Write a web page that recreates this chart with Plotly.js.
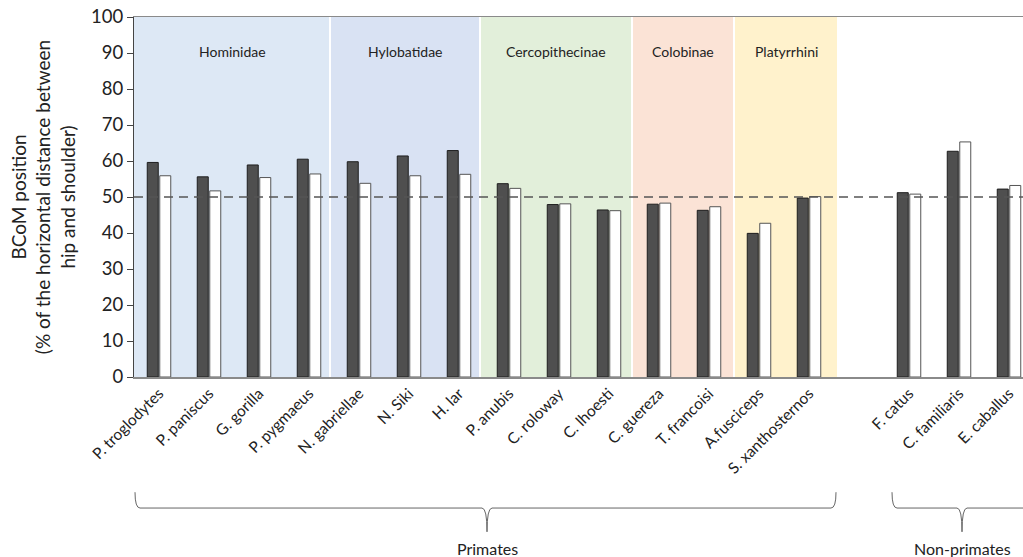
<!DOCTYPE html>
<html>
<head>
<meta charset="utf-8">
<script src="https://cdn.plot.ly/plotly-3.0.1.min.js"></script>
<style>html,body{margin:0;padding:0;background:#fff;overflow:hidden}#chart{width:1023px;height:557px}</style>
</head>
<body>
<div id="chart"></div>
<script>
// Species (slot 14 is an empty spacer between primates and non-primates)
const species = ["P. troglodytes","P. paniscus","G. gorilla","P. pygmaeus","N. gabriellae","N. Siki","H. lar",
  "P. anubis","C. roloway","C. lhoesti","C. guereza","T. francoisi","A.fusciceps","S. xanthosternos",
  "","F. catus","C. familiaris","E. caballus"];
const darkValues  = [59.6,55.6,58.9,60.5,59.8,61.4,62.9,53.7,47.9,46.4,48.0,46.3,39.9,49.7,null,51.2,62.7,52.2];
const whiteValues = [55.9,51.7,55.4,56.4,53.8,55.9,56.3,52.4,48.1,46.2,48.3,47.3,42.7,50.1,null,50.8,65.3,53.2];
const yTicks = [0,10,20,30,40,50,60,70,80,90,100];
const referenceLine = 50;
// Taxonomic groups: name, first slot, last slot
const groupNames = ["Hominidae","Hylobatidae","Cercopithecinae","Colobinae","Platyrrhini"];
const groupStart = [-0.5, 3.42, 6.42, 9.46, 11.5];
const groupEnd   = [3.42, 6.42, 9.46, 11.5, 13.58];
const groupColors = ["#dde8f5","#d9e2f3","#e2efda","#fbe3d6","#fff2cc"];
const braceLabels = ["Primates","Non-primates"];
const braceStart = [-0.48, 14.66];
const braceEnd   = [13.54, 17.6];
const braceTip   = [6.56, 16.06];

const x = species.map((_, i) => i);
const FONT = "Lato, 'Open Sans', sans-serif";

const traces = [
  {type:"bar", x:x, y:darkValues, marker:{color:"#4f4f4f", line:{color:"#1e1e1e", width:1}}, hoverinfo:"skip"},
  {type:"bar", x:x, y:whiteValues, marker:{color:"#ffffff", line:{color:"#555555", width:1}}, hoverinfo:"skip"}
];

const shapes = [];
const annotations = [];
groupNames.forEach((g, i) => {
  shapes.push({type:"rect", layer:"below", xref:"x", yref:"paper", x0:groupStart[i] + (i ? 0.02 : 0), x1:groupEnd[i] - 0.02, y0:0, y1:1,
    fillcolor:groupColors[i], line:{width:0}});
  annotations.push({xref:"x", yref:"paper", x:(groupStart[i] + groupEnd[i]) / 2, y:0.903, text:g, showarrow:false,
    font:{size:14, color:"#222", family:FONT}, xanchor:"center", yanchor:"middle"});
});
shapes.push({type:"line", layer:"above", xref:"paper", yref:"y", x0:0, x1:1, y0:referenceLine, y1:referenceLine,
  line:{color:"#555", width:1.5, dash:"9px,6px"}});

// braces (paper y: 0 = x axis, per 360 px)
const yEnd = -0.32, yBar = -0.364, yTip = -0.43;
braceLabels.forEach((b, i) => {
  const a = braceStart[i], e = braceEnd[i], t = braceTip[i];
  const r = 0.1;
  const p = `M ${a},${yEnd} Q ${a},${yBar} ${a + r},${yBar} L ${t - r},${yBar} Q ${t},${yBar} ${t},${yTip} ` +
            `M ${t},${yTip} Q ${t},${yBar} ${t + r},${yBar} L ${e - r},${yBar} Q ${e},${yBar} ${e},${yEnd}`;
  shapes.push({type:"path", xref:"x", yref:"paper", path:p, line:{color:"#666", width:1}});
  annotations.push({xref:"x", yref:"paper", x:t, y:-0.475, text:b, showarrow:false,
    font:{size:16, color:"#222", family:FONT}, xanchor:"center", yanchor:"middle"});
});

const layout = {
  width:1023, height:557,
  margin:{l:134, r:0, t:17, b:180},
  paper_bgcolor:"#fff", plot_bgcolor:"#fff",
  barmode:"group", bargap:0.5, bargroupgap:0.12,
  showlegend:false,
  font:{family:FONT, color:"#222"},
  xaxis:{range:[-0.5, 17.28], tickmode:"array", tickvals:x, ticktext:species, tickangle:-45,
    tickfont:{size:15.5, family:FONT, color:"#222"}, showgrid:false, zeroline:false,
    showline:true, linecolor:"#8a8a8a", linewidth:1.5, mirror:true, ticks:"", fixedrange:true},
  yaxis:{range:[0, 100], tickmode:"array", tickvals:yTicks, showgrid:false, zeroline:false,
    showline:true, linecolor:"#444", linewidth:1, ticks:"outside", ticklen:6, tickcolor:"#444",
    tickfont:{size:18.5, family:FONT, color:"#222"},
    title:{text:"BCoM position<br>(% of the horizontal distance between<br>hip and shoulder)",
      font:{size:19, family:FONT, color:"#222"}, standoff:10}, fixedrange:true},
  shapes:shapes, annotations:annotations
};
Plotly.newPlot("chart", traces, layout, {displayModeBar:false, staticPlot:true});
</script>
</body>
</html>
